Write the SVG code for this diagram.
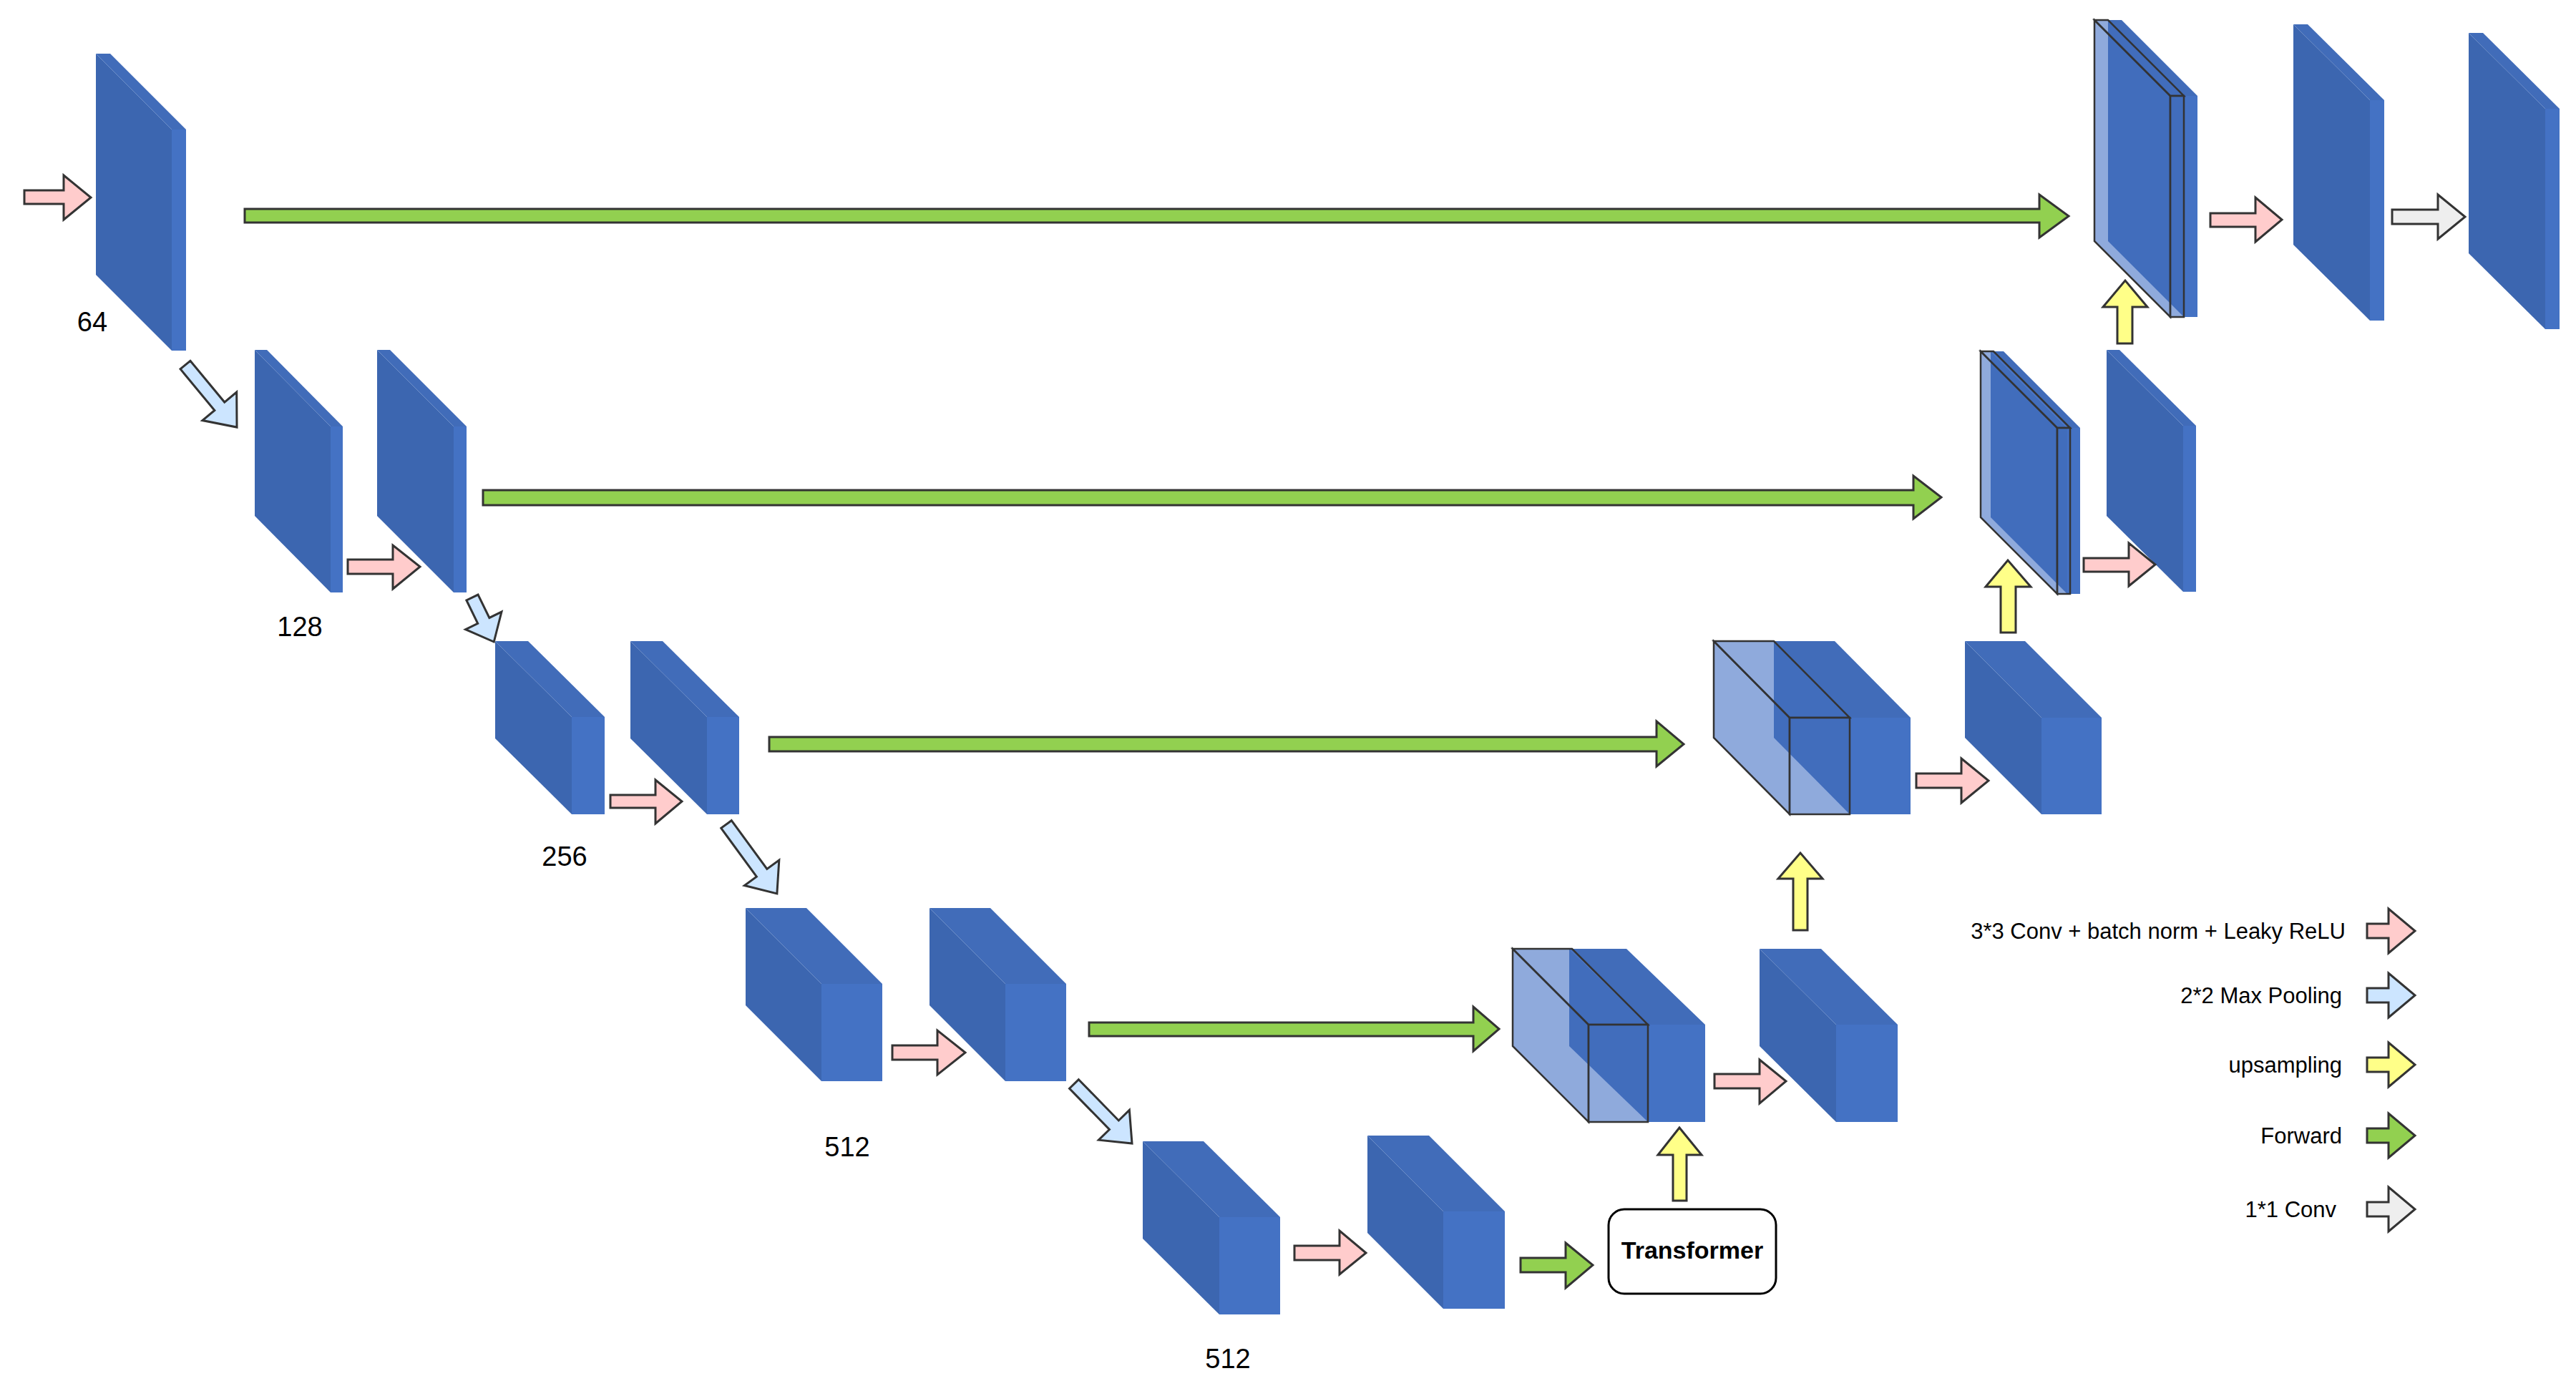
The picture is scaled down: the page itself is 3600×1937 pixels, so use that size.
<svg xmlns="http://www.w3.org/2000/svg" width="3600" height="1937" viewBox="0 0 3600 1937">
<style>
.dk{fill:#3c66b0}.tp{fill:#416cb9}.sd{fill:#4472c4}
.tr polygon,.tr rect{fill:#4472c4;fill-opacity:0.6;stroke:#333;stroke-width:2.5}
.ar{stroke:#333;stroke-width:3;stroke-linejoin:miter}
.pk{fill:#ffcccc}.bl{fill:#cce5ff}.ye{fill:#ffff88}.gr{fill:#92d050}.gy{fill:#eeeeee}
.lb{font-family:"Liberation Sans",Arial,sans-serif;font-size:38px;fill:#000}
.lg{font-family:"Liberation Sans",Arial,sans-serif;font-size:31px;fill:#000;text-anchor:end}
</style>
<g id="blocks">
<g id="b1"><polygon class="dk" points="134,75 240,181 240,490 134,384"/><polygon class="tp" points="134,75 154,75 260,181 240,181"/><rect class="sd" x="240" y="181" width="20" height="309"/></g>
<g id="b2"><polygon class="dk" points="356,489 462,596 462,828 356,721"/><polygon class="tp" points="356,489 373,489 479,596 462,596"/><rect class="sd" x="462" y="596" width="17" height="232"/></g>
<g id="b3"><polygon class="dk" points="527,489 634,596 634,828 527,721"/><polygon class="tp" points="527,489 545,489 652,596 634,596"/><rect class="sd" x="634" y="596" width="18" height="232"/></g>
<g id="b4"><polygon class="dk" points="692,896 799,1002 799,1138 692,1032"/><polygon class="tp" points="692,896 738,896 845,1002 799,1002"/><rect class="sd" x="799" y="1002" width="46" height="136"/></g>
<g id="b5"><polygon class="dk" points="881,896 988,1002 988,1138 881,1032"/><polygon class="tp" points="881,896 926,896 1033,1002 988,1002"/><rect class="sd" x="988" y="1002" width="45" height="136"/></g>
<g id="b6"><polygon class="dk" points="1042,1269 1148,1375 1148,1511 1042,1405"/><polygon class="tp" points="1042,1269 1127,1269 1233,1375 1148,1375"/><rect class="sd" x="1148" y="1375" width="85" height="136"/></g>
<g id="b7"><polygon class="dk" points="1299,1269 1405,1375 1405,1511 1299,1405"/><polygon class="tp" points="1299,1269 1384,1269 1490,1375 1405,1375"/><rect class="sd" x="1405" y="1375" width="85" height="136"/></g>
<g id="b8"><polygon class="dk" points="1597,1595 1704,1701 1704,1837 1597,1731"/><polygon class="tp" points="1597,1595 1682,1595 1789,1701 1704,1701"/><rect class="sd" x="1704" y="1701" width="85" height="136"/></g>
<g id="b9"><polygon class="dk" points="1911,1587 2017,1693 2017,1829 1911,1723"/><polygon class="tp" points="1911,1587 1997,1587 2103,1693 2017,1693"/><rect class="sd" x="2017" y="1693" width="86" height="136"/></g>
<g id="c1"><polygon class="dk" points="2193,1326 2303,1432 2303,1568 2193,1462"/><polygon class="tp" points="2193,1326 2273,1326 2383,1432 2303,1432"/><rect class="sd" x="2303" y="1432" width="80" height="136"/>
<g class="tr"><polygon points="2114,1326 2220,1432 2220,1568 2114,1462"/><polygon points="2114,1326 2197,1326 2303,1432 2220,1432"/><rect x="2220" y="1432" width="83" height="136"/></g></g>
<g id="b10"><polygon class="dk" points="2459,1326 2566,1432 2566,1568 2459,1462"/><polygon class="tp" points="2459,1326 2545,1326 2652,1432 2566,1432"/><rect class="sd" x="2566" y="1432" width="86" height="136"/></g>
<g id="c2"><polygon class="dk" points="2479,896 2585,1003 2585,1138 2479,1031"/><polygon class="tp" points="2479,896 2564,896 2670,1003 2585,1003"/><rect class="sd" x="2585" y="1003" width="85" height="135"/>
<g class="tr"><polygon points="2395,896 2501,1003 2501,1138 2395,1031"/><polygon points="2395,896 2479,896 2585,1003 2501,1003"/><rect x="2501" y="1003" width="84" height="135"/></g></g>
<g id="b11"><polygon class="dk" points="2746,896 2853,1003 2853,1138 2746,1031"/><polygon class="tp" points="2746,896 2830,896 2937,1003 2853,1003"/><rect class="sd" x="2853" y="1003" width="84" height="135"/></g>
<g id="c3"><polygon class="dk" points="2782,491 2889,598 2889,830 2782,723"/><polygon class="tp" points="2782,491 2800,491 2907,598 2889,598"/><rect class="sd" x="2889" y="598" width="18" height="232"/>
<g class="tr"><polygon points="2768,491 2875,598 2875,830 2768,723"/><polygon points="2768,491 2786,491 2893,598 2875,598"/><rect x="2875" y="598" width="18" height="232"/></g></g>
<g id="b13"><polygon class="dk" points="2944,489 3051,595 3051,827 2944,721"/><polygon class="tp" points="2944,489 2962,489 3069,595 3051,595"/><rect class="sd" x="3051" y="595" width="18" height="232"/></g>
<g id="c4"><polygon class="dk" points="2946,28 3052,134 3052,443 2946,337"/><polygon class="tp" points="2946,28 2965,28 3071,134 3052,134"/><rect class="sd" x="3052" y="134" width="19" height="309"/>
<g class="tr"><polygon points="2927,28 3033,134 3033,443 2927,337"/><polygon points="2927,28 2946,28 3052,134 3033,134"/><rect x="3033" y="134" width="19" height="309"/></g></g>
<g id="b14"><polygon class="dk" points="3205,34 3312,140 3312,448 3205,342"/><polygon class="tp" points="3205,34 3225,34 3332,140 3312,140"/><rect class="sd" x="3312" y="140" width="20" height="308"/></g>
<g id="b15"><polygon class="dk" points="3450,46 3557,152 3557,460 3450,354"/><polygon class="tp" points="3450,46 3470,46 3577,152 3557,152"/><rect class="sd" x="3557" y="152" width="20" height="308"/></g>
</g>
<g id="transformer"><rect x="2248" y="1690" width="234" height="118" rx="22" fill="#fff" stroke="#000" stroke-width="3"/><text x="2365" y="1759" font-family="Liberation Sans,Arial,sans-serif" font-size="34" font-weight="bold" text-anchor="middle">Transformer</text></g>
<g id="connectors">
<polygon class="ar pk" points="34,266 89,266 89,245 127,276 89,307 89,285 34,285"/>
<polygon class="ar pk" points="486,782 549,782 549,762 587,792 549,823 549,802 486,802"/>
<polygon class="ar pk" points="853,1111 916,1111 916,1090 953,1120 916,1151 916,1129 853,1129"/>
<polygon class="ar pk" points="1247,1461 1310,1461 1310,1440 1349,1471 1310,1502 1310,1481 1247,1481"/>
<polygon class="ar pk" points="1809,1741 1872,1741 1872,1720 1909,1751 1872,1781 1872,1761 1809,1761"/>
<polygon class="ar pk" points="2396,1501 2459,1501 2459,1481 2496,1511 2459,1542 2459,1521 2396,1521"/>
<polygon class="ar pk" points="2678,1081 2741,1081 2741,1060 2779,1091 2741,1122 2741,1101 2678,1101"/>
<polygon class="ar pk" points="2912,780 2975,780 2975,759 3012,789 2975,819 2975,799 2912,799"/>
<polygon class="ar pk" points="3089,298 3152,298 3152,276 3189,307 3152,338 3152,317 3089,317"/>
<polygon class="ar gy" points="3343,293 3407,293 3407,272 3445,303 3407,334 3407,313 3343,313"/>
<polygon class="ar gr" points="342,292 2850,292 2850,272 2891,302 2850,332 2850,311 342,311"/>
<polygon class="ar gr" points="675,685 2674,685 2674,665 2713,695 2674,725 2674,706 675,706"/>
<polygon class="ar gr" points="1075,1030 2315,1030 2315,1008 2353,1040 2315,1071 2315,1050 1075,1050"/>
<polygon class="ar gr" points="1522,1429 2059,1429 2059,1407 2095,1438 2059,1469 2059,1448 1522,1448"/>
<polygon class="ar gr" points="2125,1758 2188,1758 2188,1737 2226,1768 2188,1800 2188,1778 2125,1778"/>
<polygon class="ar ye" points="2338,1678 2338,1614 2317,1614 2347,1576 2378,1614 2357,1614 2357,1678"/>
<polygon class="ar ye" points="2506,1300 2506,1228 2485,1228 2516,1192 2547,1228 2526,1228 2526,1300"/>
<polygon class="ar ye" points="2796,884 2796,820 2775,820 2806,783 2838,820 2817,820 2817,884"/>
<polygon class="ar ye" points="2959,480 2959,429 2939,429 2970,392 3001,429 2980,429 2980,480"/>
<path class="ar bl" transform="translate(259,510) rotate(50.4)" d="M0,-9 L75,-9 L75,-31 L113,0 L75,31 L75,9 L0,9 Z"/>
<path class="ar bl" transform="translate(660,835) rotate(64)" d="M0,-9 L36,-9 L36,-28 L69,0 L36,28 L36,9 L0,9 Z"/>
<path class="ar bl" transform="translate(1015,1152) rotate(53.8)" d="M0,-9 L84,-9 L84,-30 L120,0 L84,30 L84,9 L0,9 Z"/>
<path class="ar bl" transform="translate(1501,1515) rotate(45.7)" d="M0,-9 L80,-9 L80,-30 L116,0 L80,30 L80,9 L0,9 Z"/>
</g>
<g id="labels">
<text class="lb" x="129" y="463" text-anchor="middle">64</text>
<text class="lb" x="419" y="889" text-anchor="middle">128</text>
<text class="lb" x="789" y="1210" text-anchor="middle">256</text>
<text class="lb" x="1184" y="1616" text-anchor="middle">512</text>
<text class="lb" x="1716" y="1912" text-anchor="middle">512</text>
</g>
<g id="legend">
<text class="lg" x="3278" y="1312">3*3 Conv + batch norm + Leaky ReLU</text>
<text class="lg" x="3273" y="1402">2*2 Max Pooling</text>
<text class="lg" x="3273" y="1499">upsampling</text>
<text class="lg" x="3273" y="1598">Forward</text>
<text class="lg" x="3265" y="1701">1*1 Conv</text>
<polygon class="ar pk" points="3308,1291 3338,1291 3338,1270 3375,1301 3338,1332 3338,1311 3308,1311"/>
<polygon class="ar bl" points="3308,1381 3338,1381 3338,1360 3375,1391 3338,1422 3338,1401 3308,1401"/>
<polygon class="ar ye" points="3308,1478 3338,1478 3338,1457 3375,1488 3338,1519 3338,1498 3308,1498"/>
<polygon class="ar gr" points="3308,1577 3338,1577 3338,1556 3375,1587 3338,1618 3338,1597 3308,1597"/>
<polygon class="ar gy" points="3308,1680 3338,1680 3338,1659 3375,1690 3338,1721 3338,1700 3308,1700"/>
</g>
</svg>
